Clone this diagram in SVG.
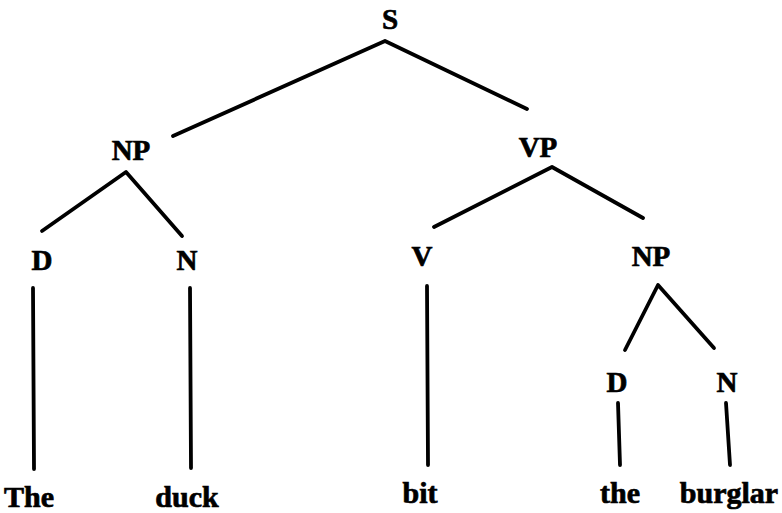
<svg xmlns="http://www.w3.org/2000/svg" width="782" height="513" viewBox="0 0 782 513">
<style>
.lbl{font-family:"Liberation Serif","Times New Roman",serif;font-weight:bold;font-size:29px;fill:#000;stroke:#000;stroke-width:0.7;text-anchor:middle}
.word{font-family:"Liberation Serif","Times New Roman",serif;font-weight:bold;font-size:30px;fill:#000;stroke:#000;stroke-width:0.7;text-anchor:middle}
.edge{stroke:#000;stroke-width:3.8;fill:none;stroke-linecap:round;stroke-linejoin:round}
</style>
<rect width="782" height="513" fill="#fff"/>
<g id="connectors">
<polyline class="edge" points="173,136 385,41 527,109"/>
<polyline class="edge" points="42,231 126,172 182,236"/>
<polyline class="edge" points="434,227 552,167 643,218"/>
<polyline class="edge" points="625,350 658,285 714,348"/>
<line class="edge" x1="33" y1="288" x2="34" y2="469"/>
<line class="edge" x1="190" y1="288" x2="191" y2="468"/>
<line class="edge" x1="427" y1="286" x2="428" y2="465"/>
<line class="edge" x1="618" y1="403" x2="620" y2="465"/>
<line class="edge" x1="726" y1="403" x2="730" y2="465"/>
</g>
<g id="S"><text class="lbl" x="390" y="29">S</text></g>
<g id="NP1"><text class="lbl" x="131" y="160">NP</text></g>
<g id="VP"><text class="lbl" x="538" y="157">VP</text></g>
<g id="D1"><text class="lbl" x="42" y="270">D</text></g>
<g id="N1"><text class="lbl" x="187" y="270">N</text></g>
<g id="V"><text class="lbl" x="422" y="266">V</text></g>
<g id="NP2"><text class="lbl" x="651" y="266">NP</text></g>
<g id="D2"><text class="lbl" x="617" y="392">D</text></g>
<g id="N2"><text class="lbl" x="727" y="392">N</text></g>
<g id="w_The"><text class="word" x="29" y="507">The</text></g>
<g id="w_duck"><text class="word" x="187" y="507">duck</text></g>
<g id="w_bit"><text class="word" x="420" y="503">bit</text></g>
<g id="w_the"><text class="word" x="620" y="503">the</text></g>
<g id="w_burglar"><text class="word" x="729" y="503">burglar</text></g>
</svg>
